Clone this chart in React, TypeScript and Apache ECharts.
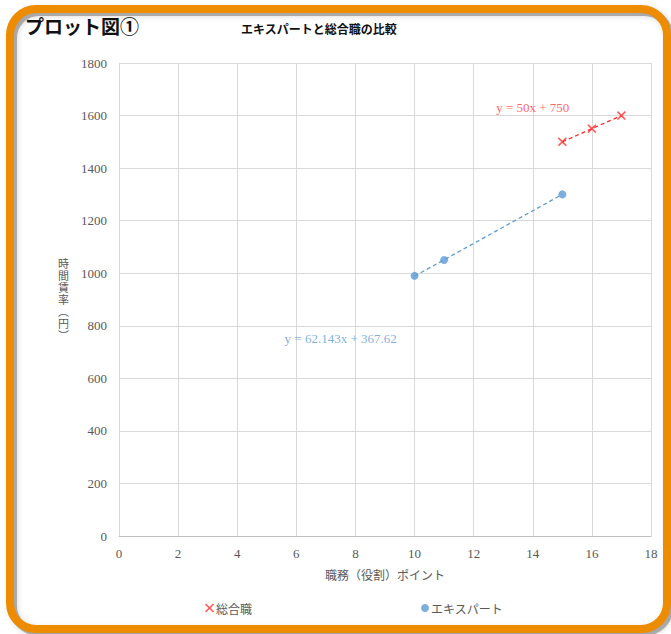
import React, { useEffect, useRef } from "react";
import * as echarts from "echarts";

const expertX = [10, 11, 15];
const expertY = [990, 1050, 1300];
const generalX = [15, 16, 17];
const generalY = [1500, 1550, 1600];
const xTicks = [0, 18, 2];
const yTicks = [0, 1800, 200];
const expertLabelPos = [7.5, 750];
const generalLabelPos = [14.0, 1630];
const yAxisTitleChars = ["時", "間", "賃", "率", "︵", "円", "︶"];

function fit(xs: number[], ys: number[]) {
  const n = xs.length;
  const mx = xs.reduce((a, b) => a + b, 0) / n;
  const my = ys.reduce((a, b) => a + b, 0) / n;
  let sxy = 0, sxx = 0;
  for (let i = 0; i < n; i++) {
    sxy += (xs[i] - mx) * (ys[i] - my);
    sxx += (xs[i] - mx) ** 2;
  }
  const m = sxy / sxx;
  const b = my - m * mx;
  return { m, b };
}

const CROSS = "path://M1.2,0 L5,3.8 L8.8,0 L10,1.2 L6.2,5 L10,8.8 L8.8,10 L5,6.2 L1.2,10 L0,8.8 L3.8,5 L0,1.2 Z";

export default function App() {
  const ref = useRef<HTMLDivElement>(null);
  useEffect(() => {
    const chart = echarts.init(ref.current!, null, { renderer: "svg" });
    const fe = fit(expertX, expertY);
    const fg = fit(generalX, generalY);
    const ex0 = Math.min(...expertX), ex1 = Math.max(...expertX);
    const gx0 = Math.min(...generalX), gx1 = Math.max(...generalX);
    const serif = "'Liberation Serif', 'Times New Roman', serif";
    const cjk = "'Noto Sans CJK JP', sans-serif";
    chart.setOption({
      animation: false,
      backgroundColor: "#fff",
      grid: { left: 119, right: 20, top: 63, bottom: 98 },
      title: {
        text: "エキスパートと総合職の比較",
        left: 236,
        top: 17,
        textStyle: { fontFamily: cjk, fontSize: 12, fontWeight: "bold", color: "#111" },
      },
      legend: [
        {
          data: [{ name: "総合職", icon: CROSS }],
          left: 200,
          top: 597,
          itemWidth: 9,
          itemHeight: 9,
          itemGap: 2,
          textStyle: { fontFamily: cjk, fontSize: 12, color: "#595959", padding: [0, 0, 0, -3] },
        },
        {
          data: [{ name: "エキスパート", icon: "circle" }],
          left: 416,
          top: 597,
          itemWidth: 8,
          itemHeight: 8,
          textStyle: { fontFamily: cjk, fontSize: 12, color: "#595959", padding: [0, 0, 0, -3] },
        },
      ],
      xAxis: {
        type: "value",
        min: xTicks[0],
        max: xTicks[1],
        interval: xTicks[2],
        name: "職務（役割）ポイント",
        nameLocation: "middle",
        nameGap: 32,
        nameTextStyle: { fontFamily: cjk, fontSize: 12, color: "#595959" },
        axisLine: { lineStyle: { color: "#bfbfbf" } },
        axisTick: { show: false },
        axisLabel: { fontFamily: serif, fontSize: 13, color: "#595959", margin: 11 },
        splitLine: { lineStyle: { color: "#d9d9d9" } },
      },
      yAxis: {
        type: "value",
        min: yTicks[0],
        max: yTicks[1],
        interval: yTicks[2],
        axisLine: { show: false },
        axisTick: { show: false },
        axisLabel: {
          fontFamily: serif,
          fontSize: 13,
          color: "#595959",
          margin: 12,
          formatter: (v: number) => String(v),
        },
        splitLine: { lineStyle: { color: "#d9d9d9" } },
      },
      graphic: [
        {
          type: "rect",
          shape: { x: 13, y: 12, width: 657, height: 620, r: 26 },
          style: { fill: "none", stroke: "rgba(90,90,90,0.45)", lineWidth: 8, shadowBlur: 6, shadowColor: "rgba(0,0,0,0.35)" },
          z: 99,
        },
        {
          type: "rect",
          shape: { x: 10, y: 9, width: 657, height: 620, r: 26 },
          style: { fill: "none", stroke: "#ee8c00", lineWidth: 8 },
          z: 100,
        },
        {
          type: "text",
          left: 25,
          top: 16,
          style: { text: "プロット図①", fontFamily: cjk, fontSize: 19, fontWeight: "bold", fill: "#111" },
        },
        {
          type: "group",
          x: 58,
          y: 257,
          children: yAxisTitleChars.map((c, i) => ({
            type: "text",
            x: 0,
            y: i * 12,
            style: {
              text: c,
              fontFamily: cjk,
              fontSize: 11,
              lineHeight: 12,
              fill: "#595959",
            },
          })),
        },
      ],
      series: [
        {
          name: "総合職",
          type: "scatter",
          symbol: CROSS,
          symbolSize: 9,
          itemStyle: { color: "#ff2a2a" },
          data: generalX.map((x, i) => [x, generalY[i]]),
          z: 5,
        },
        {
          name: "エキスパート",
          type: "scatter",
          symbol: "circle",
          symbolSize: 8,
          itemStyle: { color: "#5b9bd5" },
          data: expertX.map((x, i) => [x, expertY[i]]),
          z: 5,
        },
        {
          name: "trendG",
          type: "line",
          symbol: "none",
          lineStyle: { color: "#ff2a2a", type: [4, 3], width: 1.3 },
          data: [[gx0, fg.m * gx0 + fg.b], [gx1, fg.m * gx1 + fg.b]],
          z: 3,
        },
        {
          name: "trendE",
          type: "line",
          symbol: "none",
          lineStyle: { color: "#5b9bd5", type: [4, 3], width: 1.3 },
          data: [[ex0, fe.m * ex0 + fe.b], [ex1, fe.m * ex1 + fe.b]],
          z: 3,
        },
        {
          name: "labels",
          type: "scatter",
          symbolSize: 0,
          silent: true,
          data: [
            {
              value: generalLabelPos,
              label: {
                show: true,
                position: "inside",
                formatter: `y = ${Math.round(fg.m * 1000) / 1000}x + ${Math.round(fg.b * 100) / 100}`,
                fontFamily: serif,
                fontSize: 13,
                color: "#ff3b3b",
              },
            },
            {
              value: expertLabelPos,
              label: {
                show: true,
                position: "inside",
                formatter: `y = ${Math.round(fe.m * 1000) / 1000}x + ${Math.round(fe.b * 100) / 100}`,
                fontFamily: serif,
                fontSize: 13,
                color: "#5b9bd5",
              },
            },
          ],
        },
      ],
    });
    return () => chart.dispose();
  }, []);
  return (
    <div
      ref={ref}
      style={{ position: "fixed", left: 0, top: 0, width: 671, height: 634 }}
    />
  );
}
